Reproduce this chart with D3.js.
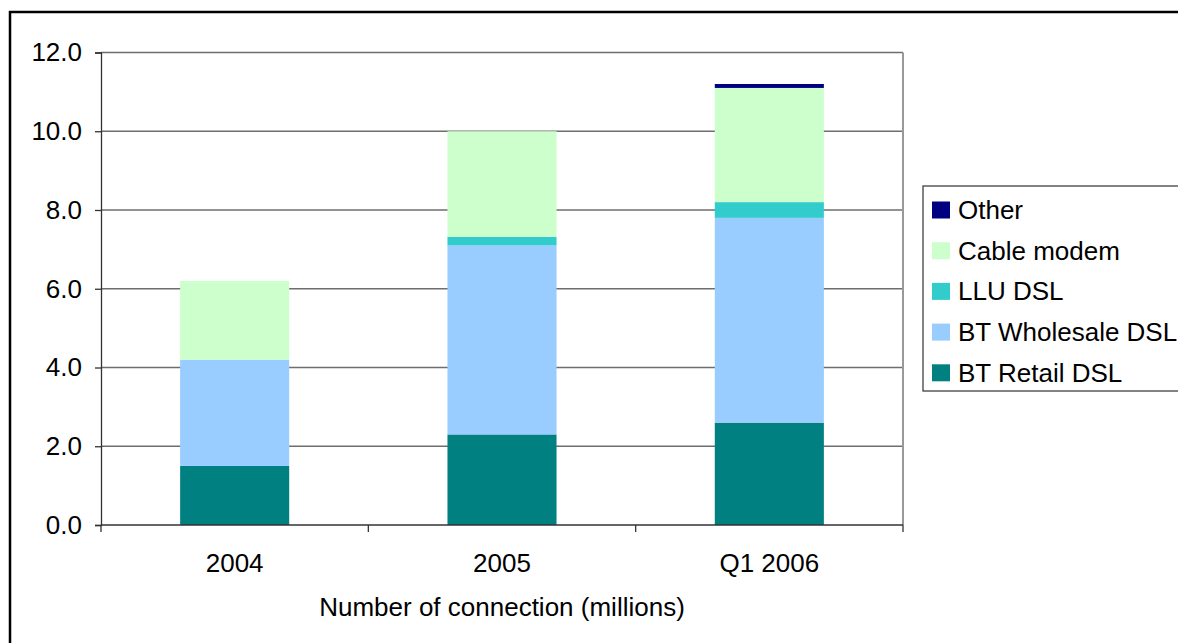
<!DOCTYPE html>
<html>
<head>
  <meta charset="UTF-8" />
  <title>Broadband connections</title>
  <script src="https://d3js.org/d3.v7.min.js"></script>
  <style>
    body { margin: 0; background: #fff; }
    text { font-family: "Liberation Sans", Arial, sans-serif; fill: #000; }
  </style>
</head>
<body>
<div id="chart"></div>
<script>
  // data (millions)
  var categories = ["2004", "2005", "Q1 2006"];
  var seriesNames = ["BT Retail DSL", "BT Wholesale DSL", "LLU DSL", "Cable modem", "Other"];
  var btRetail = [1.5, 2.3, 2.6];
  var btWholesale = [2.7, 4.8, 5.2];
  var lluDsl = [0.0, 0.22, 0.4];
  var cableModem = [2.0, 2.68, 2.9];
  var other = [0.0, 0.0, 0.1];
  var yTicks = [0, 2, 4, 6, 8, 10, 12];
  var colors = ["#008080", "#99CCFF", "#33CCCC", "#CCFFCC", "#000080"];

  var rows = categories.map(function (c, i) {
    return {
      cat: c,
      "BT Retail DSL": btRetail[i],
      "BT Wholesale DSL": btWholesale[i],
      "LLU DSL": lluDsl[i],
      "Cable modem": cableModem[i],
      "Other": other[i]
    };
  });

  var width = 1178, height = 643;
  var plotLeft = 101, plotRight = 903, plotTop = 52.5, plotBottom = 525;
  var fontSize = 26;

  var svg = d3.select("#chart").append("svg")
    .attr("width", width)
    .attr("height", height);

  // outer frame
  svg.append("rect")
    .attr("x", 10).attr("y", 12)
    .attr("width", 1300).attr("height", 800)
    .attr("fill", "none")
    .attr("stroke", "#000")
    .attr("stroke-width", 2.5);

  var x = d3.scaleBand()
    .domain(categories)
    .range([plotLeft, plotRight])
    .paddingInner(0.592)
    .paddingOuter(0.296);

  var y = d3.scaleLinear()
    .domain([0, 12])
    .range([plotBottom, plotTop]);

  // gridlines
  svg.append("g")
    .selectAll("line")
    .data(yTicks.filter(function (d) { return d > 0; }))
    .enter().append("line")
    .attr("x1", plotLeft).attr("x2", plotRight)
    .attr("y1", function (d) { return y(d); })
    .attr("y2", function (d) { return y(d); })
    .attr("stroke", "#6e6e6e")
    .attr("stroke-width", 1.3);

  // right border of plot area
  svg.append("line")
    .attr("x1", plotRight).attr("x2", plotRight)
    .attr("y1", plotTop).attr("y2", plotBottom)
    .attr("stroke", "#999")
    .attr("stroke-width", 2);

  // stacked bars
  var stack = d3.stack().keys(seriesNames);
  var layers = stack(rows);

  svg.append("g")
    .selectAll("g")
    .data(layers)
    .enter().append("g")
    .attr("fill", function (d, i) { return colors[i]; })
    .selectAll("rect")
    .data(function (d) { return d; })
    .enter().append("rect")
    .attr("x", function (d) { return x(d.data.cat); })
    .attr("width", x.bandwidth())
    .attr("y", function (d) { return y(d[1]); })
    .attr("height", function (d) { return y(d[0]) - y(d[1]); });

  // y axis
  var yAxis = d3.axisLeft(y)
    .tickValues(yTicks)
    .tickSize(6)
    .tickPadding(13)
    .tickFormat(d3.format(".1f"));

  var gy = svg.append("g")
    .attr("transform", "translate(" + plotLeft + ",0)")
    .call(yAxis);
  gy.select(".domain").attr("stroke", "#333").attr("stroke-width", 1.3);
  gy.selectAll(".tick line").attr("stroke", "#333").attr("stroke-width", 1.3);
  gy.selectAll(".tick text")
    .attr("font-size", fontSize)
    .attr("font-family", "Liberation Sans, Arial, sans-serif")
    .attr("fill", "#000");

  // x axis line and category ticks
  svg.append("line")
    .attr("x1", plotLeft).attr("x2", plotRight)
    .attr("y1", plotBottom).attr("y2", plotBottom)
    .attr("stroke", "#333")
    .attr("stroke-width", 1.3);

  var step = x.step();
  var boundaries = d3.range(categories.length + 1).map(function (i) { return plotLeft + i * step; });
  svg.append("g")
    .selectAll("line")
    .data(boundaries)
    .enter().append("line")
    .attr("x1", function (d) { return d; })
    .attr("x2", function (d) { return d; })
    .attr("y1", plotBottom).attr("y2", plotBottom + 7)
    .attr("stroke", "#333")
    .attr("stroke-width", 1.3);

  svg.append("g")
    .selectAll("text")
    .data(categories)
    .enter().append("text")
    .attr("x", function (d) { return x(d) + x.bandwidth() / 2; })
    .attr("y", 572)
    .attr("text-anchor", "middle")
    .attr("font-size", fontSize)
    .text(function (d) { return d; });

  svg.append("text")
    .attr("x", (plotLeft + plotRight) / 2)
    .attr("y", 616)
    .attr("text-anchor", "middle")
    .attr("font-size", fontSize)
    .text("Number of connection (millions)");

  // legend (top entry = top of stack)
  var legend = svg.append("g");
  legend.append("rect")
    .attr("x", 923).attr("y", 186)
    .attr("width", 320).attr("height", 205)
    .attr("fill", "#fff")
    .attr("stroke", "#404040")
    .attr("stroke-width", 1.3);

  var legendItems = seriesNames.slice().reverse();
  var li = legend.selectAll("g.item")
    .data(legendItems)
    .enter().append("g")
    .attr("class", "item")
    .attr("transform", function (d, i) { return "translate(932," + (210 + i * 40.7) + ")"; });

  li.append("rect")
    .attr("x", 0).attr("y", -8.5)
    .attr("width", 18).attr("height", 17)
    .attr("fill", function (d) { return colors[seriesNames.indexOf(d)]; });

  li.append("text")
    .attr("x", 26)
    .attr("y", 9)
    .attr("font-size", fontSize)
    .text(function (d) { return d; });
</script>
</body>
</html>
